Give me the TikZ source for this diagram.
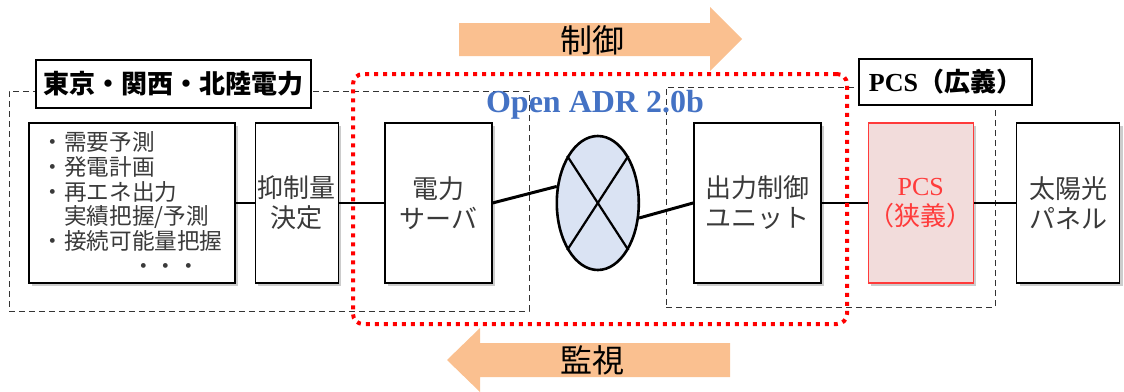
\documentclass[tikz,border=0pt]{standalone}
\usepackage{fontspec}
\setmainfont{Liberation Serif}
\newfontfamily\jpfont{Noto Sans CJK JP}
\usepackage{tikz}
\usetikzlibrary{positioning, shapes.geometric, shadows}
\definecolor{adrorange}{HTML}{FAC090}
\definecolor{adrblue}{HTML}{4472C4}
\definecolor{netblue}{HTML}{DAE3F3}
\definecolor{pcsred}{HTML}{FF3B3B}
\definecolor{pcspink}{HTML}{F2DCDB}
\definecolor{txtgray}{HTML}{3A3A3A}

\begin{document}
\begin{tikzpicture}[
  x=0.5pt, y=-0.5pt,
  unitbox/.style={
    rectangle, draw=black, line width=0.7pt, fill=white,
    minimum height=80pt, inner sep=0pt, align=center,
    font=\jpfont\fontsize{13pt}{15pt}\selectfont, text=txtgray,
    drop shadow={shadow xshift=1.5pt, shadow yshift=-1.5pt, fill=black!40}
  },
  titlebox/.style={
    rectangle, draw=black, line width=0.7pt, fill=white, inner sep=0pt,
    font=\jpfont\bfseries\fontsize{13pt}{15pt}\selectfont
  },
  grpframe/.style={
    rectangle, draw=black!80, dash pattern=on 3pt off 2pt,
    line width=0.5pt, inner sep=0pt
  },
  adrframe/.style={
    rectangle, draw=red, dash pattern=on 2pt off 2.5pt,
    line width=2pt, rounded corners=5pt, inner sep=0pt
  },
  thinlink/.style={line width=0.7pt},
  midlink/.style={line width=1pt},
  thicklink/.style={line width=1.5pt},
  flowlbl/.style={font=\jpfont\fontsize{16pt}{18pt}\selectfont},
]
\useasboundingbox (0,0) rectangle (1124,391);

% --- Group frames ---
\node[grpframe, minimum width=260pt, minimum height=110pt] (tepcoframe) at (269,201) {};
\node[grpframe, minimum width=164.5pt, minimum height=110pt] (pcsframe) at (830.5,197) {};
\node[titlebox, minimum width=137.5pt, minimum height=24pt] (tepcolbl) at (173.5,84)
  {東京・関西・北陸電力};
\node[titlebox, minimum width=86.5pt, minimum height=23pt] (pcslbl) at (945.5,82)
  {{\rmfamily\bfseries PCS}（広義）};

% --- Row of units ---
\node[unitbox, minimum width=103pt, align=left,
      font=\jpfont\fontsize{11.3pt}{12.4pt}\selectfont] (demand) at (132,203)
  {・需要予測\\・発電計画\\・再エネ出力\\\hspace*{1em}実績把握/予測\\・接続可能量把握\\\hspace*{4em}・・・};
\node[unitbox, minimum width=41.5pt, right=9.5pt of demand] (decide) {抑制量\\決定};
\node[unitbox, minimum width=53.5pt, right=22.5pt of decide] (server) {電力\\サーバ};
\node[ellipse, draw=black, line width=1.3pt, fill=netblue,
      minimum width=41pt, minimum height=67pt, right=31.5pt of server] (net) {};
\node[unitbox, minimum width=63.5pt, right=26.5pt of net] (ctrlunit) {出力制御\\ユニット};
\node[unitbox, minimum width=52.5pt, right=23pt of ctrlunit,
      draw=pcsred, fill=pcspink, text=pcsred] (pcs) {{\rmfamily PCS}\\（狭義）};
\node[unitbox, minimum width=51.5pt, right=21pt of pcs] (panel) {太陽光\\パネル};

% --- Links ---
\draw[line width=1.1pt] (net.123) -- (net.-57);
\draw[line width=1.1pt] (net.57) -- (net.-123);
\draw[thinlink] (demand) -- (decide);
\draw[thinlink] (decide) -- (server);
\draw[thicklink] (server.east) -- (net.158);
\draw[thicklink] (net.-20) -- (ctrlunit.west);
\draw[midlink] (ctrlunit) -- (pcs);
\draw[midlink] (pcs) -- (panel);

% --- OpenADR scope ---
\node[adrframe, minimum width=247pt, minimum height=125pt] (adrscope) at (600,199) {};
\node[font=\bfseries\fontsize{16pt}{18pt}\selectfont, text=adrblue] (adrlbl) at (595,105)
  {Open ADR 2.0b};

% --- Flow arrows ---
\fill[adrorange] (459,23) -- (710,23) -- (710,7) -- (742,39) -- (710,71)
  -- (710,56) -- (459,56) -- cycle;
\node[flowlbl] (ctrllbl) at (592,40) {制御};
\fill[adrorange] (730,343) -- (480,343) -- (480,328) -- (447,360) -- (480,392)
  -- (480,377) -- (730,377) -- cycle;
\node[flowlbl] (monlbl) at (592,360) {監視};

\end{tikzpicture}
\end{document}
